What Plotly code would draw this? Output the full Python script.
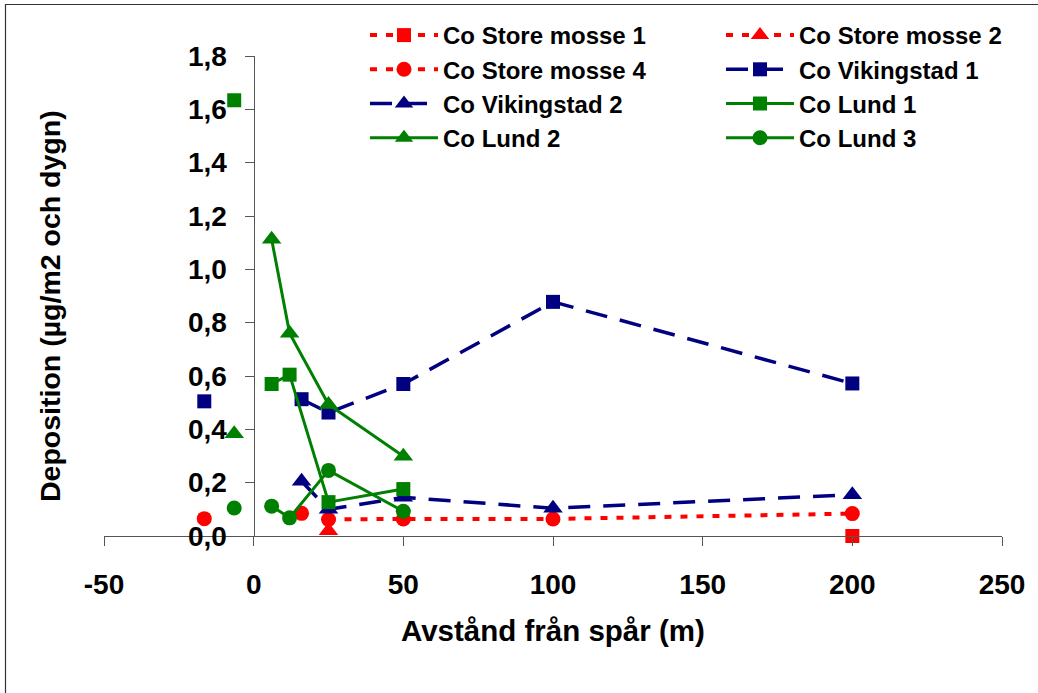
import plotly.graph_objects as go

# Distance from the track (m) and cobalt deposition (µg/m2 och dygn) per site.
# None entries break the line between isolated reference points and the transect.
sm1_x = [200]
sm1_y = [0.0]

sm2_x = [25]
sm2_y = [0.02]

sm4_x = [-16.5, None, 16, None, 25, 50, 100, 200]
sm4_y = [0.065, None, 0.085, None, 0.062, 0.064, 0.064, 0.084]

vik1_x = [-16.5, None, 16, 25, 50, 100, 200]
vik1_y = [0.505, None, 0.513, 0.463, 0.570, 0.878, 0.572]

vik2_x = [16, 25, 50, 100, 200]
vik2_y = [0.205, 0.100, 0.145, 0.104, 0.155]

lund1_x = [-6.5, None, 6, 12, 25, 50]
lund1_y = [1.634, None, 0.570, 0.605, 0.127, 0.176]

lund2_x = [-6.5, None, 6, 12, 25, 50]
lund2_y = [0.383, None, 1.113, 0.760, 0.493, 0.299]

lund3_x = [-6.5, None, 6, 12, 25, 50]
lund3_y = [0.105, None, 0.112, 0.068, 0.246, 0.093]

x_ticks = [-50, 0, 50, 100, 150, 200, 250]
x_ticklabels = ["-50", "0", "50", "100", "150", "200", "250"]
y_ticks = [0.0, 0.2, 0.4, 0.6, 0.8, 1.0, 1.2, 1.4, 1.6, 1.8]
y_ticklabels = ["0,0", "0,2", "0,4", "0,6", "0,8", "1,0", "1,2", "1,4", "1,6", "1,8"]

RED, NAVY, GREEN = "#FF0000", "#000080", "#008000"
FONT = "Arial, Liberation Sans, sans-serif"

red_line = dict(color=RED, width=4, dash="7px,9px")
navy_line = dict(color=NAVY, width=3.5, dash="22px,13px")
green_line = dict(color=GREEN, width=3)

series = [
    ("Co Store mosse 1", sm1_x, sm1_y, red_line, "square", 14, "legend"),
    ("Co Store mosse 2", sm2_x, sm2_y, red_line, "triangle-up", 17, "legend2"),
    ("Co Store mosse 4", sm4_x, sm4_y, red_line, "circle", 15, "legend"),
    ("Co Vikingstad 1", vik1_x, vik1_y, navy_line, "square", 14, "legend2"),
    ("Co Vikingstad 2", vik2_x, vik2_y, navy_line, "triangle-up", 17, "legend"),
    ("Co Lund 1", lund1_x, lund1_y, green_line, "square", 14, "legend2"),
    ("Co Lund 2", lund2_x, lund2_y, green_line, "triangle-up", 17, "legend"),
    ("Co Lund 3", lund3_x, lund3_y, green_line, "circle", 15, "legend2"),
]

fig = go.Figure()
for name, xs, ys, line, symbol, size, leg in series:
    fig.add_trace(go.Scatter(
        x=xs, y=ys, name=name, mode="lines+markers",
        line=line,
        marker=dict(symbol=symbol, size=size, color=line["color"], line=dict(width=0)),
        cliponaxis=False, legend=leg,
    ))

W, H = 1038, 693
ML, MR, MT, MB = 104, 36, 56, 157
PW, PH = W - ML - MR, H - MT - MB


def px_x(p):
    return (p - ML) / PW


def px_y(p):
    return (H - MB - p) / PH


legend_style = dict(
    font=dict(family=FONT, size=24, color="black", weight="bold"),
    bgcolor="rgba(0,0,0,0)", borderwidth=0,
    xref="container", yref="container", xanchor="left", yanchor="top",
    itemwidth=68, orientation="v", traceorder="normal",
    itemclick=False, itemdoubleclick=False,
)

fig.update_layout(
    width=W, height=H,
    margin=dict(l=ML, r=MR, t=MT, b=MB, autoexpand=False),
    paper_bgcolor="white", plot_bgcolor="white",
    separators=", ",
    showlegend=True,
    legend=dict(legend_style, x=365 / W, y=1 - 13 / H),
    legend2=dict(legend_style, x=721 / W, y=1 - 13 / H),
    xaxis=dict(
        range=[-50, 250], tickmode="array", tickvals=x_ticks, ticktext=x_ticklabels,
        showgrid=False, zeroline=False, showline=True, linecolor="#555555", linewidth=1.3,
        ticks="outside", ticklen=9, tickcolor="#555555", tickwidth=1.3,
        tickfont=dict(family=FONT, size=28, color="black", weight="bold"),
        ticklabelstandoff=14, automargin=False,
    ),
    yaxis=dict(
        range=[0, 1.8], tickmode="array", tickvals=y_ticks, ticktext=y_ticklabels,
        showgrid=False, zeroline=False, showline=True, linecolor="#555555", linewidth=1.3,
        ticks="outside", ticklen=9, tickcolor="#555555", tickwidth=1.3,
        tickfont=dict(family=FONT, size=28, color="black", weight="bold"),
        anchor="free", position=1 / 6, ticklabelstandoff=12, automargin=False,
    ),
    annotations=[
        dict(text="Avstånd från spår (m)", xref="paper", yref="paper",
             x=0.5, y=px_y(630), xanchor="center", yanchor="middle", showarrow=False,
             font=dict(family=FONT, size=29.5, color="black", weight="bold")),
        dict(text="Deposition (µg/m2 och dygn)", xref="paper", yref="paper",
             x=px_x(50), y=px_y(306), xanchor="center", yanchor="middle", showarrow=False,
             textangle=-90,
             font=dict(family=FONT, size=28.5, color="black", weight="bold")),
    ],
    shapes=[
        dict(type="rect", xref="paper", yref="paper",
             x0=px_x(5.5), x1=px_x(1045), y0=px_y(4.5), y1=px_y(700),
             line=dict(color="#333333", width=1.2), fillcolor="rgba(0,0,0,0)", layer="below"),
    ],
)

fig.write_html("out.html")
